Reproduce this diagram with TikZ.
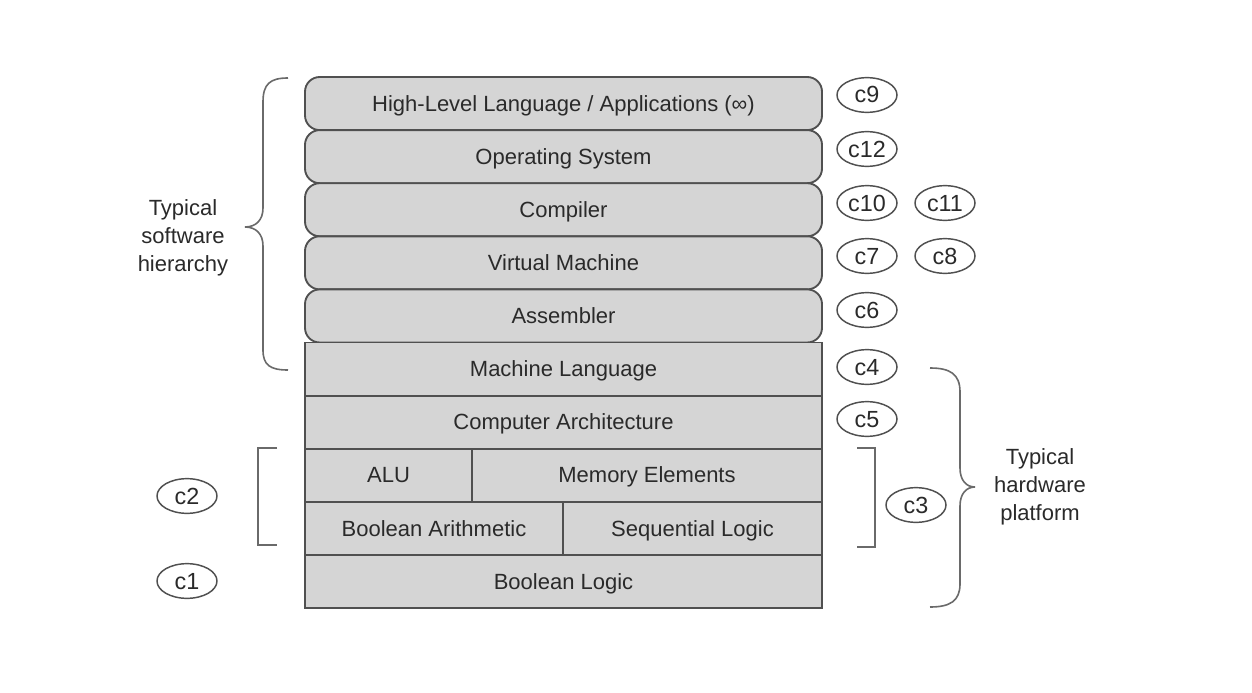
\documentclass[tikz,border=0pt]{standalone}
\usepackage{fontspec}
\setmainfont{Liberation Sans}
\usetikzlibrary{shapes.geometric}
\definecolor{boxfill}{HTML}{D5D5D5}
\definecolor{boxline}{HTML}{505050}
\definecolor{txt}{HTML}{2A2A2A}
\definecolor{brc}{HTML}{6A6A6A}
\newcommand\lblfont{\fontsize{16.5}{21}\selectfont}
\newcommand\tagfont{\fontsize{17.5}{21}\selectfont}
\begin{document}
\begin{tikzpicture}[x=0.75pt,y=-0.75pt,
  layer/.style={draw=boxline,fill=boxfill,line width=1.4pt,minimum height=39.8pt,inner sep=0pt,font=\lblfont,text=txt,text height=13.5pt,text depth=2pt},
  swlayer/.style={layer,rounded corners=11pt,minimum width=387.75pt},
  hwlayer/.style={layer,minimum width=387.75pt},
  tag/.style={ellipse,draw=boxline,line width=1.1pt,minimum width=45pt,minimum height=26pt,inner sep=0pt,font=\tagfont,text=txt,text height=12.5pt,text depth=0.5pt},
  bracestyle/.style={draw=brc,line width=1.2pt},
  sidelabel/.style={align=center,font=\lblfont,text=txt}]
\useasboundingbox (0,0) rectangle (1252,692);
\fill[white] (0,0) rectangle (1252,692);
% software layers
\node[swlayer] (hll) at (563.5,103.55) {High-Level Language / Applications (∞)};
\node[swlayer] (os)  at (563.5,156.65) {Operating System};
\node[swlayer] (comp) at (563.5,209.75) {Compiler};
\node[swlayer] (vm)  at (563.5,262.85) {Virtual Machine};
\node[swlayer] (asm) at (563.5,315.95) {Assembler};
% hardware layers
\node[hwlayer] (ml) at (563.5,369.05) {Machine Language};
\node[hwlayer] (ca) at (563.5,422.15) {Computer Architecture};
\node[layer,minimum width=125.25pt] (alu) at (388.5,475.25) {ALU};
\node[layer,minimum width=262.5pt] (mem) at (647,475.25) {Memory Elements};
\node[layer,minimum width=193.5pt] (ba) at (434,528.35) {Boolean Arithmetic};
\node[layer,minimum width=194.25pt] (sl) at (692.5,528.35) {Sequential Logic};
\node[hwlayer] (bl) at (563.5,581.45) {Boolean Logic};
% tags
\node[tag] (c9) at (867,95) {c9};
\node[tag] (c12) at (867,149) {c12};
\node[tag] (c10) at (867,203) {c10};
\node[tag] (c11) at (945,203) {c11};
\node[tag] (c7) at (867,256) {c7};
\node[tag] (c8) at (945,256) {c8};
\node[tag] (c6) at (867,310) {c6};
\node[tag] (c4) at (867,367) {c4};
\node[tag] (c5) at (867,419) {c5};
\node[tag] (c3) at (916,505) {c3};
\node[tag] (c2) at (187,496) {c2};
\node[tag] (c1) at (187,581) {c1};
% software brace
\coordinate (swtop) at (288,78);
\coordinate (swtip) at (245,227);
\coordinate (swbot) at (288,370);
\draw[bracestyle] (swtop) .. controls (270,78) and (263,84) .. (263,102) -- (263,208)
  .. controls (263,220) and (256,227) .. (swtip)
  .. controls (256,227) and (263,234) .. (263,246) -- (263,350)
  .. controls (263,365) and (270,370) .. (swbot);
\node[sidelabel] (swlabel) at (183,238) {Typical\\software\\hierarchy};
% hardware brace
\coordinate (hwtop) at (930,368);
\coordinate (hwtip) at (975,487);
\coordinate (hwbot) at (930,607);
\draw[bracestyle] (hwtop) .. controls (950,368) and (960,374) .. (960,392) -- (960,468)
  .. controls (960,480) and (966,487) .. (hwtip)
  .. controls (966,487) and (960,494) .. (960,506) -- (960,584)
  .. controls (960,601) and (950,607) .. (hwbot);
\node[sidelabel] (hwlabel) at (1040,487) {Typical\\hardware\\platform};
% square brackets
\coordinate (lbt) at (277,448);
\coordinate (lbb) at (277,545);
\draw[bracestyle] (lbt) -- (258,448) -- (258,545) -- (lbb);
\coordinate (rbt) at (857,448);
\coordinate (rbb) at (857,547);
\draw[bracestyle] (rbt) -- (875,448) -- (875,547) -- (rbb);
\end{tikzpicture}
\end{document}
